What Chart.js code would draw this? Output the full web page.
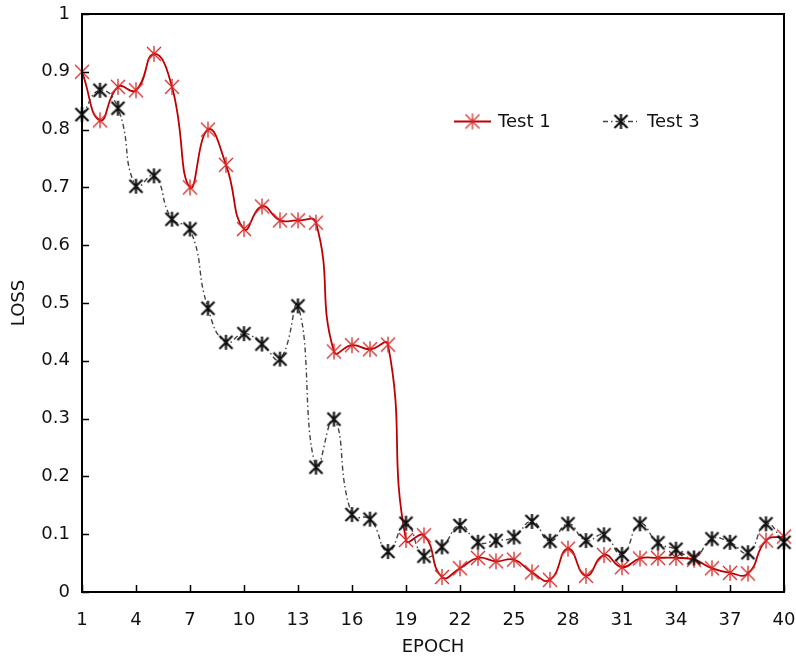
<!DOCTYPE html>
<html lang="en">
<head>
    <meta charset="UTF-8">
    <title>LOSS vs EPOCH</title>
    <script src="https://cdn.jsdelivr.net/npm/chart.js"></script>
    <style>
        body { margin: 0; background: #fff; }
    </style>
</head>
<body>
    <canvas id="lossChart" width="796" height="659"></canvas>

    <script>
        // epochs 1..40
        const epochs = [1, 2, 3, 4, 5, 6, 7, 8, 9, 10, 11, 12, 13, 14, 15, 16, 17, 18, 19, 20,
                        21, 22, 23, 24, 25, 26, 27, 28, 29, 30, 31, 32, 33, 34, 35, 36, 37, 38, 39, 40];

        const test1 = [0.900, 0.816, 0.874, 0.868, 0.931, 0.874, 0.700, 0.800, 0.739, 0.628,
                       0.667, 0.643, 0.643, 0.639, 0.416, 0.427, 0.420, 0.428, 0.090, 0.098,
                       0.026, 0.041, 0.059, 0.053, 0.056, 0.034, 0.021, 0.075, 0.028, 0.064,
                       0.043, 0.058, 0.059, 0.059, 0.056, 0.041, 0.033, 0.032, 0.089, 0.096];

        const test3 = [0.826, 0.868, 0.837, 0.702, 0.720, 0.645, 0.628, 0.491, 0.432, 0.447,
                       0.429, 0.403, 0.495, 0.216, 0.299, 0.134, 0.126, 0.070, 0.119, 0.062,
                       0.078, 0.115, 0.086, 0.089, 0.095, 0.122, 0.088, 0.118, 0.089, 0.099,
                       0.065, 0.118, 0.085, 0.074, 0.059, 0.092, 0.086, 0.068, 0.118, 0.086];

        const xTicks = [1, 4, 7, 10, 13, 16, 19, 22, 25, 28, 31, 34, 37, 40];
        const yTicks = [0, 0.1, 0.2, 0.3, 0.4, 0.5, 0.6, 0.7, 0.8, 0.9, 1];

        const FONT = "'DejaVu Sans', Verdana, sans-serif";
        const RED_LINE = "#c00000";
        const RED_MARK = "#d92a2a";
        const BLACK = "#111111";
        const GREY_LINE = "#444444";

        // asterisk marker: an X with a vertical bar
        function makeStar(color, size, lw) {
            const c = document.createElement("canvas");
            c.width = size; c.height = size;
            const g = c.getContext("2d");
            g.strokeStyle = color;
            g.lineWidth = lw;
            const a = 2, b = size - 2, m = size / 2;
            g.beginPath();
            g.moveTo(a, a); g.lineTo(b, b);
            g.moveTo(b, a); g.lineTo(a, b);
            g.moveTo(m, 1); g.lineTo(m, size - 1);
            g.stroke();
            return c;
        }
        const redStar = makeStar(RED_MARK, 18, 1.3);
        const blackStar = makeStar(BLACK, 17, 2.2);

        const pts = (ys) => epochs.map((x, i) => ({ x: x, y: ys[i] }));

        // box frame, inward tick marks and the legend
        const framePlugin = {
            id: "frame",
            afterDatasetsDraw(chart) {
                const ctx = chart.ctx;
                const a = chart.chartArea;
                const xs = chart.scales.x, ys = chart.scales.y;
                ctx.save();
                ctx.strokeStyle = "#000";
                ctx.lineWidth = 2;
                ctx.strokeRect(a.left, a.top, a.right - a.left, a.bottom - a.top);
                ctx.lineWidth = 1.5;
                ctx.beginPath();
                xTicks.forEach(v => {
                    const px = Math.round(xs.getPixelForValue(v)) + 0.5;
                    ctx.moveTo(px, a.bottom); ctx.lineTo(px, a.bottom - 7);
                });
                yTicks.forEach(v => {
                    const py = Math.round(ys.getPixelForValue(v)) + 0.5;
                    ctx.moveTo(a.left, py); ctx.lineTo(a.left + 7, py);
                });
                ctx.stroke();

                // legend
                const ly = a.top + 107.5;
                ctx.font = "18px " + FONT;
                ctx.fillStyle = "#111";
                ctx.textBaseline = "middle";

                ctx.strokeStyle = RED_LINE;
                ctx.lineWidth = 1.8;
                ctx.beginPath();
                ctx.moveTo(a.left + 372, ly); ctx.lineTo(a.left + 409, ly);
                ctx.stroke();
                ctx.drawImage(redStar, a.left + 390.5 - 9, ly - 9);
                ctx.fillText("Test 1", a.left + 416, ly + 1);

                ctx.strokeStyle = GREY_LINE;
                ctx.lineWidth = 1.5;
                ctx.setLineDash([5, 3, 1.5, 3]);
                ctx.beginPath();
                ctx.moveTo(a.left + 521, ly); ctx.lineTo(a.left + 555, ly);
                ctx.stroke();
                ctx.setLineDash([]);
                ctx.drawImage(blackStar, a.left + 539 - 8.5, ly - 8.5);
                ctx.fillText("Test 3", a.left + 565, ly + 1);
                ctx.restore();
            }
        };

        new Chart(document.getElementById("lossChart"), {
            type: "line",
            data: {
                datasets: [
                    {
                        label: "Test 1",
                        data: pts(test1),
                        borderColor: RED_LINE,
                        borderWidth: 1.8,
                        tension: 0.5,
                        pointStyle: redStar,
                        pointRadius: 9,
                        clip: false,
                        order: 2
                    },
                    {
                        label: "Test 3",
                        data: pts(test3),
                        borderColor: GREY_LINE,
                        borderWidth: 1.4,
                        borderDash: [5, 3, 1.5, 3],
                        tension: 0.5,
                        pointStyle: blackStar,
                        pointRadius: 9,
                        clip: false,
                        order: 1
                    }
                ]
            },
            options: {
                responsive: false,
                animation: false,
                events: [],
                layout: { padding: { left: 0, top: 14, right: 12, bottom: 0 } },
                plugins: {
                    legend: { display: false },
                    tooltip: { enabled: false }
                },
                scales: {
                    x: {
                        type: "linear",
                        min: 1,
                        max: 40,
                        afterFit: (s) => {
                            s.height = 67;
                            s.paddingLeft = 0;
                            s.paddingRight = 0;
                        },
                        afterBuildTicks: (s) => { s.ticks = xTicks.map(v => ({ value: v })); },
                        grid: { display: false },
                        border: { display: false },
                        ticks: {
                            padding: 10,
                            color: "#111",
                            font: { family: FONT, size: 18 }
                        },
                        title: {
                            display: true,
                            text: "EPOCH",
                            color: "#111",
                            font: { family: FONT, size: 18 },
                            padding: { top: 0, bottom: 1 }
                        }
                    },
                    y: {
                        min: 0,
                        max: 1,
                        afterFit: (s) => {
                            s.width = 82;
                            s.paddingTop = 0;
                            s.paddingBottom = 0;
                        },
                        afterBuildTicks: (s) => { s.ticks = yTicks.map(v => ({ value: v })); },
                        grid: { display: false },
                        border: { display: false },
                        ticks: {
                            padding: 4,
                            color: "#111",
                            font: { family: FONT, size: 18 },
                            callback: (v) => (v === 0 || v === 1) ? String(v) : v.toFixed(1)
                        },
                        title: {
                            display: true,
                            text: "LOSS",
                            color: "#111",
                            font: { family: FONT, size: 18 },
                            padding: { top: 9, bottom: 0 }
                        }
                    }
                }
            },
            plugins: [framePlugin]
        });
    </script>
</body>
</html>
